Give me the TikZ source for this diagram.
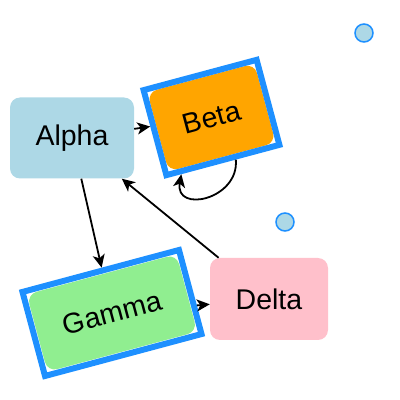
\documentclass[tikz,border=0pt]{standalone}
\usepackage{fontspec}
\setmainfont{Liberation Sans}
\usetikzlibrary{arrows.meta}
\definecolor{lightblue}{HTML}{ADD8E6}
\definecolor{lightgreen}{HTML}{90EE90}
\definecolor{pinkbox}{HTML}{FFC0CB}
\definecolor{orangebox}{HTML}{FFA500}
\definecolor{frameblue}{HTML}{1E90FF}

\begin{document}
\begin{tikzpicture}[x=1pt, y=1pt,
    tile/.style={rectangle, rounded corners=10pt, inner sep=0pt, font=\fontsize{28.5}{34}\selectfont},
    bluefr/.style={rectangle, draw=frameblue, line width=6pt, inner sep=0pt, font=\fontsize{28.5}{34}\selectfont},
    bubble/.style={circle, draw=frameblue, fill=lightblue, line width=1.5pt, minimum size=18pt, inner sep=0pt},
    link/.style={-{Stealth[length=13pt,width=12pt,inset=3.5pt]}, line width=1.8pt}]
    \useasboundingbox (0,0) rectangle (400,400);

    % Define the boxes
    \node[tile, fill=lightblue, minimum width=124pt, minimum height=81pt] (alpha) at (72,262) {Alpha};
    \node[tile, fill=orangebox, minimum width=111pt, minimum height=82pt, rotate=15] (betafill) at (211.5,282.5) {};
    \node[bluefr, minimum width=117pt, minimum height=88pt, rotate=15] (beta) at (211.5,282.5) {Beta};
    \node[tile, fill=lightgreen, minimum width=155pt, minimum height=80pt, rotate=15] (gammafill) at (112,87) {};
    \node[bluefr, minimum width=162pt, minimum height=87pt, rotate=15] (gamma) at (112,87) {Gamma};
    \node[tile, fill=pinkbox, minimum width=118pt, minimum height=82pt] (delta) at (269,101) {Delta};

    % Define the loose circles
    \foreach \i/\x/\y in {1/364/367, 2/285/178} {
        \node[bubble] (c\i) at (\x,\y) {};
    }

    % Define the directed edges
    \draw[link] (alpha) -- (beta);
    \draw[link] (alpha) -- (gamma);
    \draw[link] (delta) -- (alpha);
    \draw[link] (gamma) -- (delta);
    \draw[link] (beta.-75) .. controls +(-85:40) and +(-100:40) .. (beta.-133);

\end{tikzpicture}
\end{document}
